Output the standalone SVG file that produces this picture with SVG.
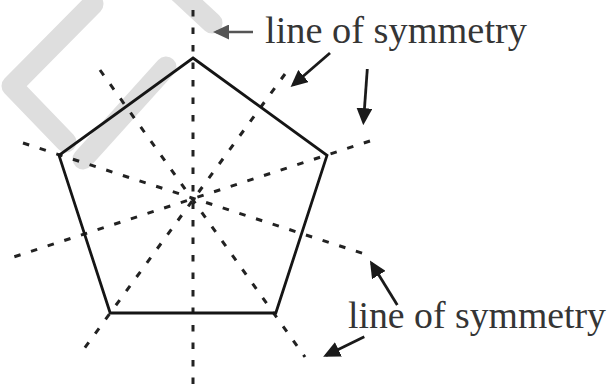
<svg xmlns="http://www.w3.org/2000/svg" width="613" height="389" viewBox="0 0 613 389">
  <style>
    .wm { fill: none; stroke: #dedede; stroke-width: 21; stroke-linecap: round; stroke-linejoin: round; }
    .sym { fill: none; stroke: #222; stroke-width: 3; stroke-dasharray: 6.5 11; }
    .edge { fill: none; stroke: #151515; stroke-width: 2.8; stroke-linejoin: miter; }
    .arrow { fill: none; stroke: #1a1a1a; stroke-width: 2.8; marker-end: url(#headDark); }
    .arrow-gray { fill: none; stroke: #555; stroke-width: 2.6; marker-end: url(#headGray); }
    .label { font-family: "Liberation Serif", "Times New Roman", serif; font-size: 38px; fill: #353535; }
  </style>
  <defs>
    <marker id="headDark" markerUnits="userSpaceOnUse" markerWidth="17" markerHeight="16" viewBox="0 0 16 15" refX="13" refY="7.5" orient="auto">
      <path d="M0,0 L16,7.5 L0,15 Z" fill="#1a1a1a"/>
    </marker>
    <marker id="headGray" markerUnits="userSpaceOnUse" markerWidth="16" markerHeight="15" viewBox="0 0 16 15" refX="13" refY="7.5" orient="auto">
      <path d="M0,0 L16,7.5 L0,15 Z" fill="#555"/>
    </marker>
  </defs>
  <rect width="613" height="389" fill="#ffffff"/>

  <g id="watermark">
    <path class="wm" d="M93,4 L12,86 L66,142"/>
    <path class="wm" d="M166,67 L83,159"/>
    <path class="wm" d="M170,-16 L212,23"/>
  </g>

  <g id="symmetry-lines">
    <line class="sym" x1="193" y1="10" x2="193" y2="389"/>
    <line class="sym" x1="370" y1="141" x2="12" y2="257.5"/>
    <line class="sym" x1="23" y1="143" x2="363" y2="253.5"/>
    <line class="sym" x1="100" y1="70" x2="305" y2="357"/>
    <line class="sym" x1="285" y1="74" x2="81.7" y2="352"/>
  </g>

  <g id="pentagon">
    <polygon class="edge" points="193,58 327,155.4 275.8,313 110.2,313 59,155.4"/>
  </g>

  <g id="connectors">
    <line class="arrow-gray" x1="253" y1="32" x2="216" y2="32"/>
    <line class="arrow" x1="330" y1="53" x2="293" y2="85"/>
    <line class="arrow" x1="367.3" y1="69" x2="363.5" y2="122"/>
    <line class="arrow" x1="397.3" y1="305" x2="371.6" y2="263.3"/>
    <line class="arrow" x1="364.3" y1="336.7" x2="326" y2="355.4"/>
  </g>

  <g id="label-top">
    <text class="label" x="265" y="43" textLength="262" lengthAdjust="spacingAndGlyphs">line of symmetry</text>
  </g>
  <g id="label-bottom">
    <text class="label" x="348" y="328" textLength="258" lengthAdjust="spacingAndGlyphs">line of symmetry</text>
  </g>
</svg>
